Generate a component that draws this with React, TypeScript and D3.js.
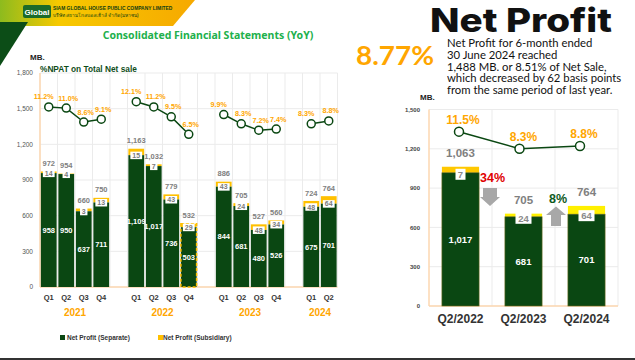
import React from 'react';
import * as d3 from 'd3';

// quarterly figures (MB.)
const periodYear = ['2021', '2021', '2021', '2021', '2022', '2022', '2022', '2022', '2023', '2023', '2023', '2023', '2024', '2024'];
const quarterLabels = ['Q1', 'Q2', 'Q3', 'Q4', 'Q1', 'Q2', 'Q3', 'Q4', 'Q1', 'Q2', 'Q3', 'Q4', 'Q1', 'Q2'];
const separate = [958, 950, 637, 711, 1109, 1017, 736, 503, 844, 681, 480, 526, 675, 701];
const subsidiary = [14, 4, 3, 13, 15, 7, 43, 29, 43, 24, 48, 34, 48, 64];
const totals = [972, 954, 660, 750, 1163, 1032, 779, 532, 886, 705, 527, 560, 724, 764];
const npat = [11.2, 11.0, 8.6, 9.1, 12.1, 11.2, 9.5, 6.5, 9.9, 8.3, 7.2, 7.4, 8.3, 8.8];
const leftTicks = [0, 300, 600, 900, 1200, 1500, 1800];

// Q2 comparison
const q2Labels = ['Q2/2022', 'Q2/2023', 'Q2/2024'];
const q2Separate = [1017, 681, 701];
const q2Subsidiary = [7, 24, 64];
const q2Totals = [1063, 705, 764];
const q2Npat = [11.5, 8.3, 8.8];
const rightTicks = [0, 300, 600, 900, 1200, 1500];

const GREEN = '#0a4712';
const GOLD = '#ffc000';
const ORANGE = '#ffa600';
const GRID = '#ebebeb';
const AXIS = '#fcd7b0';
const LABEL_FONT = '"Liberation Sans", Arial, sans-serif';
const fmt = d3.format(',');

const periods = quarterLabels.map((q, i) => periodYear[i] + q);
const slots: string[] = [];
periods.forEach((p, i) => {
  if (i > 0 && periodYear[i] !== periodYear[i - 1]) slots.push('gap' + i);
  slots.push(p);
});
const years = Array.from(new Set(periodYear));

const App: React.FC = () => {
  // left chart scales
  const x = d3.scaleBand().domain(slots).range([40, 337.5]).paddingInner(0.1).paddingOuter(0.05);
  const y = d3.scaleLinear().domain([0, 1800]).range([287, 73]);
  const yPct = d3.scaleLinear().domain([6, 12.5]).range([137.2, 99.4]);
  const cx = (i: number) => (x(periods[i]) as number) + x.bandwidth() / 2;

  // right chart scales
  const xr = d3.scaleBand().domain(q2Labels).range([429, 618]).paddingInner(0.41).paddingOuter(0.205);
  const xrPt = d3.scalePoint().domain(q2Labels).range([459, 580]);
  const yr = d3.scaleLinear().domain([0, 1500]).range([306, 109.5]);
  const yrPct = d3.scaleLinear().domain([8, 12]).range([150.3, 129.0]);

  const line = d3.line<number>().x((i) => cx(i)).y((i) => yPct(npat[i]));
  const lineR = d3
    .line<number>()
    .x((i) => xrPt(q2Labels[i]) as number)
    .y((i) => yrPct(q2Npat[i]));

  const step = x.step();
  const vGrid = d3.range(slots.length + 1).map((k) => 40 + k * step);

  return (
    <div style={{ position: 'fixed', left: 0, top: 0 }}>
      <svg width={635} height={360} style={{ display: 'block', background: '#fff' }}>
        <defs>
          <linearGradient id="band" x1="0" x2="1" y1="0" y2="0">
            <stop offset="0" stopColor="#8dbb1e" />
            <stop offset="0.3" stopColor="#f7c900" />
            <stop offset="1" stopColor="#f6a900" />
          </linearGradient>
        </defs>

        {/* header */}
        <polygon points="0,0 195,0 173,26 0,26" fill="url(#band)" />
        <polygon points="0,22 28,22 0,66" fill="#0c4d17" />
        <rect x={23} y={5} width={28} height={13} rx={2} fill="#1b6b2a" />
        <text x={37} y={14.5} textAnchor="middle" fontFamily={LABEL_FONT} fontWeight="bold" fontSize={8} fill="#fff">Global</text>
        <text x={53} y={9.5} fontFamily={LABEL_FONT} fontWeight="bold" fontSize={4.9} fill="#123d12">SIAM GLOBAL HOUSE PUBLIC COMPANY LIMITED</text>
        <text x={53} y={16.5} fontFamily={'"Noto Sans", sans-serif'} fontSize={4.8} fill="#123d12">บริษัท สยามโกลบอลเฮ้าส์ จำกัด(มหาชน)</text>
        <text x={208} y={39} textAnchor="middle" fontFamily={'"Noto Sans", sans-serif'} fontWeight="bold" fontSize={10.5} fill="#21b04b">Consolidated Financial Statements (YoY)</text>

        {/* left chart */}
        <text x={30} y={60} fontFamily={LABEL_FONT} fontWeight="bold" fontSize={8} fill="#222">MB.</text>
        <text x={40} y={72} fontFamily={LABEL_FONT} fontWeight="bold" fontSize={8.3} fill="#0f4d1a">%NPAT on Total Net sale</text>
        {leftTicks.map((t) => (
          <g key={t}>
            <line x1={40} x2={337.5} y1={y(t)} y2={y(t)} stroke={GRID} />
            <text x={33} y={y(t)} dy="0.35em" textAnchor="end" fontFamily={LABEL_FONT} fontSize={6.5} fill="#555">{fmt(t)}</text>
          </g>
        ))}
        {vGrid.map((gx, k) => (
          <line key={k} x1={gx} x2={gx} y1={y(1800)} y2={y(0)} stroke={GRID} />
        ))}
        <line x1={40} x2={40} y1={y(1800)} y2={y(0)} stroke={AXIS} strokeWidth={1.5} />
        <line x1={40} x2={337.5} y1={y(0)} y2={y(0)} stroke={AXIS} strokeWidth={1.5} />

        {periods.map((p, i) => {
          const bx = x(p) as number;
          const bw = x.bandwidth();
          const sepTop = y(separate[i]);
          const totTop = y(totals[i]);
          const subTxt = String(subsidiary[i]);
          const boxW = 3 + subTxt.length * 4.4;
          return (
            <g key={p}>
              <rect x={bx} y={totTop} width={bw} height={sepTop - totTop} fill={GOLD} />
              <rect x={bx} y={sepTop} width={bw} height={y(0) - sepTop} fill={GREEN} />
              {i === 7 && (
                <rect x={bx} y={totTop} width={bw} height={y(0) - totTop} fill="none" stroke={GOLD} strokeWidth={1.5} strokeDasharray="3,2" />
              )}
              <text x={bx + bw / 2} y={(sepTop + y(0)) / 2} dy="0.35em" textAnchor="middle" fontFamily={LABEL_FONT} fontWeight="bold" fontSize={7.5} fill="#fff">{fmt(separate[i])}</text>
              <rect x={bx + bw / 2 - boxW / 2} y={sepTop - 3.5} width={boxW} height={7.5} fill="#fff" />
              <text x={bx + bw / 2} y={sepTop + 0.3} dy="0.35em" textAnchor="middle" fontFamily={LABEL_FONT} fontWeight="bold" fontSize={7} fill="#7a7a7a">{subTxt}</text>
              <text x={bx + bw / 2} y={totTop - 8} dy="0.35em" textAnchor="middle" fontFamily={LABEL_FONT} fontWeight="bold" fontSize={7.5} fill="#808080">{fmt(totals[i])}</text>
              <text x={bx + bw / 2} y={297} dy="0.35em" textAnchor="middle" fontFamily={LABEL_FONT} fontWeight="bold" fontSize={7.5} fill="#333">{quarterLabels[i]}</text>
            </g>
          );
        })}

        {years.map((yrKey) => {
          const idx = periods.map((_, i) => i).filter((i) => periodYear[i] === yrKey);
          const mid = d3.mean(idx, (i) => cx(i)) as number;
          return (
            <g key={yrKey}>
              <path d={line(idx) || ''} fill="none" stroke={GREEN} strokeWidth={1.5} />
              {idx.map((i, k) => (
                <g key={i}>
                  <circle cx={cx(i)} cy={yPct(npat[i])} r={4} fill="#fff" stroke={GREEN} strokeWidth={1.5} />
                  <text x={cx(i) + (k === 0 ? -5 : 2)} y={yPct(npat[i]) - 10} dy="0.35em" textAnchor="middle" fontFamily={LABEL_FONT} fontWeight="bold" fontSize={7.2} fill={ORANGE}>{npat[i].toFixed(1)}%</text>
                </g>
              ))}
              <text x={mid} y={312} dy="0.35em" textAnchor="middle" fontFamily={LABEL_FONT} fontWeight="bold" fontSize={10} fill={ORANGE}>{yrKey}</text>
            </g>
          );
        })}

        {/* legend */}
        <rect x={60} y={335} width={5} height={5} fill={GREEN} />
        <text x={67} y={338} dy="0.35em" fontFamily={LABEL_FONT} fontWeight="bold" fontSize={6.5} fill="#333">Net Profit (Separate)</text>
        <rect x={158} y={335} width={5} height={5} fill={GOLD} />
        <text x={163} y={338} dy="0.35em" fontFamily={LABEL_FONT} fontWeight="bold" fontSize={6.5} fill="#333">Net Profit (Subsidiary)</text>

        {/* right header */}
        <text x={430} y={32} fontFamily={'Inter, "Noto Sans", sans-serif'} fontWeight={800} fontSize={33} fill="#111" textLength={182} lengthAdjust="spacingAndGlyphs">Net Profit</text>
        <text x={356} y={65} fontFamily={'Lato, "Noto Sans", sans-serif'} fontWeight="bold" fontSize={27.5} fill={ORANGE} textLength={78} lengthAdjust="spacingAndGlyphs">8.77%</text>
        {[
          'Net Profit for 6-month ended',
          '30 June 2024 reached',
          '1,488 MB. or 8.51% of Net Sale,',
          'which decreased by 62 basis points',
          'from the same period of last year.',
        ].map((s, k) => (
          <text key={k} x={447} y={47 + k * 11.8} fontFamily={'Lato, "Noto Sans", sans-serif'} fontSize={11.3} fill="#111">{s}</text>
        ))}

        {/* right chart */}
        <text x={420} y={100} fontFamily={LABEL_FONT} fontWeight="bold" fontSize={8} fill="#222">MB.</text>
        {rightTicks.map((t) => (
          <g key={t}>
            <line x1={429} x2={618} y1={yr(t)} y2={yr(t)} stroke={GRID} />
            <text x={420} y={yr(t)} dy="0.35em" textAnchor="end" fontFamily={LABEL_FONT} fontWeight="bold" fontSize={6} fill="#444">{fmt(t)}</text>
          </g>
        ))}
        {q2Labels.map((c) => {
          const gx = (xr(c) as number) - xr.step() * 0.205 + xr.step();
          return <line key={c} x1={gx} x2={gx} y1={yr(1500)} y2={yr(0)} stroke={GRID} />;
        })}
        <line x1={429} x2={429} y1={yr(1500)} y2={yr(0)} stroke={AXIS} strokeWidth={1.5} />
        <line x1={429} x2={618} y1={yr(0)} y2={yr(0)} stroke={AXIS} strokeWidth={1.5} />

        {q2Labels.map((c, i) => {
          const bx = xr(c) as number;
          const bw = xr.bandwidth();
          const sepTop = yr(q2Separate[i]);
          const totTop = yr(q2Totals[i]);
          const subTxt = String(q2Subsidiary[i]);
          const boxW = 4 + subTxt.length * 6;
          return (
            <g key={c}>
              <rect x={bx} y={totTop} width={bw} height={sepTop - totTop} fill={i === 0 ? '#ffc800' : '#fff000'} />
              <rect x={bx} y={sepTop} width={bw} height={yr(0) - sepTop} fill={GREEN} stroke="#6b6a1c" strokeWidth={0.6} />
              <text x={bx + bw / 2} y={(sepTop + yr(0)) / 2} dy="0.35em" textAnchor="middle" fontFamily={LABEL_FONT} fontWeight="bold" fontSize={9.5} fill="#fff">{fmt(q2Separate[i])}</text>
              <rect x={bx + bw / 2 - boxW / 2} y={sepTop - 4} width={boxW} height={11} fill="#fff" />
              <text x={bx + bw / 2} y={sepTop + 1.5} dy="0.35em" textAnchor="middle" fontFamily={LABEL_FONT} fontWeight="bold" fontSize={9.5} fill="#8a8a8a">{subTxt}</text>
              <text x={bx + bw / 2} y={totTop - 14} dy="0.35em" textAnchor="middle" fontFamily={LABEL_FONT} fontWeight="bold" fontSize={11.5} fill="#808080">{fmt(q2Totals[i])}</text>
              <text x={bx + bw / 2} y={319} dy="0.35em" textAnchor="middle" fontFamily={LABEL_FONT} fontWeight="bold" fontSize={12} fill="#333">{c}</text>
            </g>
          );
        })}
        <path d={lineR([0, 1, 2]) || ''} fill="none" stroke={GREEN} strokeWidth={1.5} />
        {q2Labels.map((c, i) => (
          <g key={c}>
            <circle cx={xrPt(c) as number} cy={yrPct(q2Npat[i])} r={4.5} fill="#fff" stroke={GREEN} strokeWidth={1.5} />
            <text x={(xrPt(c) as number) + 4} y={yrPct(q2Npat[i]) - 12} dy="0.35em" textAnchor="middle" fontFamily={LABEL_FONT} fontWeight="bold" fontSize={12} fill={ORANGE}>{q2Npat[i].toFixed(1)}%</text>
          </g>
        ))}

        {/* change arrows */}
        <polygon points="483,188 497,188 497,197 500,197 490,206 480,197 483,197" fill="#a8a8a8" />
        <text x={480} y={178} dy="0.35em" fontFamily={LABEL_FONT} fontWeight="bold" fontSize={12.5} fill="#e00000">34%</text>
        <polygon points="556,206.5 566,215 561,215 561,226 551,226 551,215 546,215" fill="#a8a8a8" />
        <text x={549} y={199} dy="0.35em" fontFamily={LABEL_FONT} fontWeight="bold" fontSize={12.5} fill="#0d5a1d">8%</text>

        <line x1={0} x2={635} y1={359} y2={359} stroke="#333" strokeWidth={2} />
      </svg>
    </div>
  );
};

export default App;
